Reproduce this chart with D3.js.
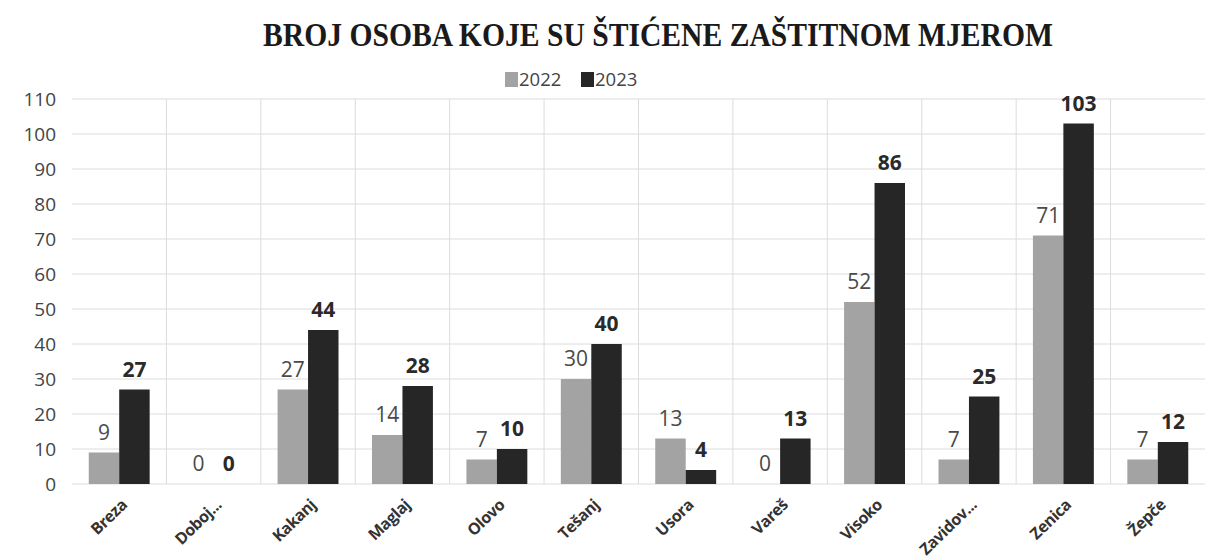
<!DOCTYPE html>
<html>
<head>
<meta charset="utf-8">
<script src="https://cdn.jsdelivr.net/npm/d3@7"></script>
<style>
  body { margin: 0; background: #fff; }
  svg { display: block; }
</style>
</head>
<body>
<div id="chart"></div>
<script>
// data
const categories = ["Breza", "Doboj...", "Kakanj", "Maglaj", "Olovo", "Tešanj", "Usora", "Vareš", "Visoko", "Zavidov...", "Zenica", "Žepče"];
const years = ["2022", "2023"];
const values2022 = [9, 0, 27, 14, 7, 30, 13, 0, 52, 7, 71, 7];
const values2023 = [27, 0, 44, 28, 10, 40, 4, 13, 86, 25, 103, 12];
const yTicks = [0, 10, 20, 30, 40, 50, 60, 70, 80, 90, 100, 110];

const width = 1209, height = 560;
const margin = {top: 99, right: 4, bottom: 76, left: 72};

const svg = d3.select("#chart").append("svg")
    .attr("width", width)
    .attr("height", height);

const x = d3.scaleBand()
    .domain(categories)
    .range([margin.left, width - margin.right]);

const xInner = d3.scaleBand()
    .domain(years)
    .range([0, x.bandwidth()])
    .paddingInner(0)
    .paddingOuter(0.55);

const y = d3.scaleLinear()
    .domain([0, 110])
    .range([height - margin.bottom, margin.top]);

const colors = {"2022": "#a3a3a3", "2023": "#262626"};

// title
svg.append("text")
    .attr("x", 658)
    .attr("y", 46)
    .attr("text-anchor", "middle")
    .style("font-family", "'Liberation Serif', 'DejaVu Serif', serif")
    .style("font-weight", "bold")
    .style("font-size", "33px")
    .style("fill", "#1a1a1a")
    .attr("textLength", 790)
    .attr("lengthAdjust", "spacingAndGlyphs")
    .text("BROJ OSOBA KOJE SU ŠTIĆENE ZAŠTITNOM MJEROM");

// legend
const legend = svg.append("g").attr("transform", "translate(505, 70)");
years.forEach((yr, i) => {
    const g = legend.append("g").attr("transform", `translate(${i * 76}, 0)`);
    g.append("rect").attr("width", 13).attr("height", 15).attr("y", 2).attr("fill", colors[yr]);
    g.append("text")
        .attr("x", 14).attr("y", 16)
        .style("font-family", "'Open Sans', 'Liberation Sans', sans-serif")
        .style("font-size", "18.5px")
        .style("fill", "#444")
        .text(yr);
});

// horizontal grid
svg.append("g")
    .selectAll("line")
    .data(yTicks)
    .enter().append("line")
    .attr("x1", margin.left)
    .attr("x2", width - margin.right)
    .attr("y1", d => y(d))
    .attr("y2", d => y(d))
    .attr("stroke", "#dcdcdc")
    .attr("stroke-width", 1);

// vertical grid between categories
svg.append("g")
    .selectAll("line")
    .data(categories.slice(1))
    .enter().append("line")
    .attr("x1", d => x(d))
    .attr("x2", d => x(d))
    .attr("y1", y(110))
    .attr("y2", y(0))
    .attr("stroke", "#dcdcdc")
    .attr("stroke-width", 1);

// y axis labels
const yAxis = d3.axisLeft(y).tickValues(yTicks).tickSize(0).tickPadding(14);
const yG = svg.append("g")
    .attr("transform", `translate(${margin.left - 2},0)`)
    .call(yAxis);
yG.select(".domain").remove();
yG.selectAll("text")
    .style("font-family", "'Open Sans', 'Liberation Sans', sans-serif")
    .style("font-size", "19px")
    .style("fill", "#444");

// bars
const groups = svg.append("g")
    .selectAll("g")
    .data(categories.map((c, i) => ({cat: c, vals: [
        {year: "2022", value: values2022[i]},
        {year: "2023", value: values2023[i]}
    ]})))
    .enter().append("g")
    .attr("transform", d => `translate(${x(d.cat)},0)`);

groups.selectAll("rect")
    .data(d => d.vals)
    .enter().append("rect")
    .attr("x", d => xInner(d.year))
    .attr("y", d => y(d.value))
    .attr("width", xInner.bandwidth())
    .attr("height", d => y(0) - y(d.value))
    .attr("fill", d => colors[d.year]);

groups.selectAll("text")
    .data(d => d.vals)
    .enter().append("text")
    .attr("x", d => xInner(d.year) + xInner.bandwidth() / 2)
    .attr("y", d => y(d.value) - 13)
    .attr("text-anchor", "middle")
    .style("font-family", "'Open Sans', 'Liberation Sans', sans-serif")
    .style("font-size", "21px")
    .style("font-weight", d => d.year === "2023" ? "bold" : "normal")
    .style("fill", d => d.year === "2023" ? "#2a2a2a" : "#4a4a4a")
    .text(d => d.value);

// x axis labels
const xAxis = d3.axisBottom(x).tickSize(0).tickPadding(0);
const xG = svg.append("g")
    .attr("transform", `translate(0,${y(0)})`)
    .call(xAxis);
xG.select(".domain").remove();
xG.selectAll("text")
    .attr("y", 0)
    .attr("dy", "0.35em")
    .attr("transform", "translate(5,18) rotate(-44)")
    .attr("text-anchor", "end")
    .style("font-family", "'Open Sans', 'Liberation Sans', sans-serif")
    .style("font-weight", "bold")
    .style("font-size", "16px")
    .style("letter-spacing", "-0.4px")
    .style("fill", "#333");
</script>
</body>
</html>
